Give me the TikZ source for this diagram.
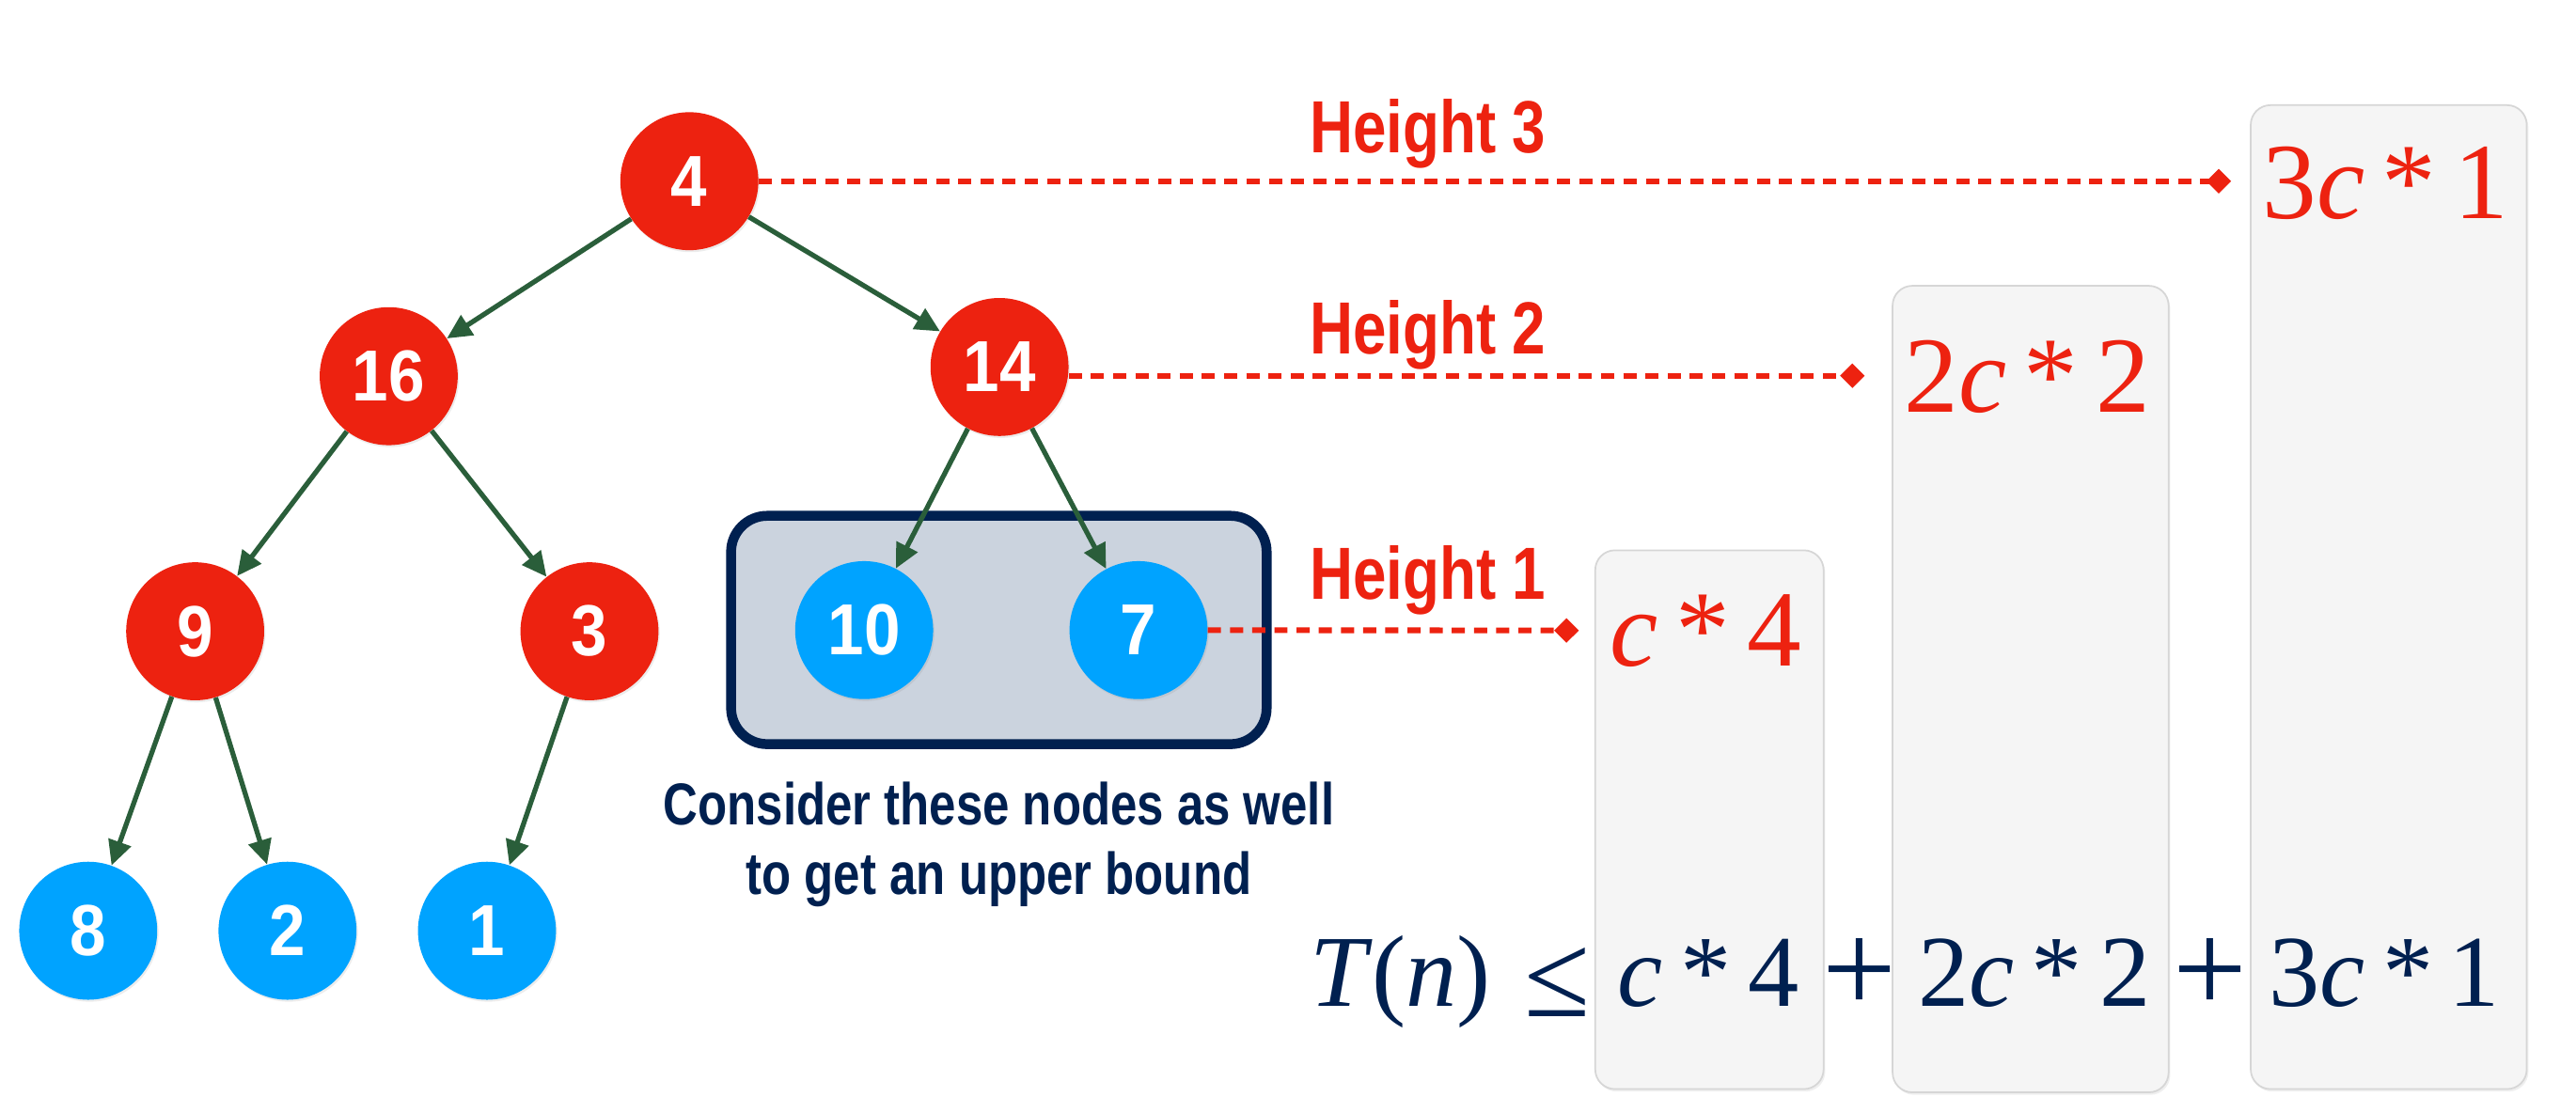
\documentclass[tikz,border=0pt]{standalone}
\usepackage{fontspec}
\usetikzlibrary{arrows.meta,shadows}
\newfontfamily\numfont[FakeStretch=0.9]{Liberation Sans}
\newfontfamily\condfont[FakeStretch=0.81]{Liberation Sans}
\newfontfamily\serifont{Liberation Serif}
\definecolor{hred}{RGB}{237,34,16}
\definecolor{hblue}{RGB}{0,163,255}
\definecolor{hgreen}{RGB}{42,94,58}
\definecolor{hnavy}{RGB}{0,32,80}
\definecolor{boxfill}{RGB}{203,211,222}
\definecolor{barfill}{RGB}{245,245,245}
\definecolor{barline}{RGB}{214,214,214}
\newcommand\bigplus{\raisebox{-4pt}{\fontsize{80}{80}\selectfont +}}
\newcommand\bigleq{\raisebox{-6pt}{\fontsize{73}{73}\selectfont ≤}}
\begin{document}
\begin{tikzpicture}[x=1pt,y=-1pt,
  heapnode/.style={circle, minimum size=84pt, inner sep=0pt, text=white,
    font=\numfont\bfseries\fontsize{44}{44}\selectfont,
    drop shadow={opacity=0.15, shadow xshift=0.8pt, shadow yshift=-1.2pt}},
  rednode/.style={heapnode, fill=hred},
  bluenode/.style={heapnode, fill=hblue},
  treeedge/.style={draw=hgreen, line width=3pt, -{Triangle[length=15pt,width=14pt]}},
  levelline/.style={draw=hred, line width=3.5pt, dash pattern=on 8pt off 5.5pt, -{Diamond[length=15pt,width=15pt]}},
  heightlbl/.style={anchor=base west, inner sep=0pt, text=hred, font=\condfont\bfseries\fontsize{45}{45}\selectfont},
  costbar/.style={fill=barfill, draw=barline, line width=1pt, rounded corners=12pt, inner sep=0pt,
    drop shadow={opacity=0.12, shadow xshift=1pt, shadow yshift=-1.5pt}},
  costlbl/.style={anchor=base west, inner sep=0pt, text=hred, font=\serifont\fontsize{66}{66}\selectfont},
]
\useasboundingbox[fill=white] (0,0) rectangle (1568,667.8);

% bars
\node[costbar, minimum width=139pt, minimum height=328pt] (bar1) at (1040.5,499) {};
\node[costbar, minimum width=168pt, minimum height=491pt] (bar2) at (1236,419.5) {};
\node[costbar, minimum width=168pt, minimum height=599pt] (bar3) at (1454,363.5) {};

% group box
\node[draw=hnavy, line width=6pt, fill=boxfill, rounded corners=22pt, inner sep=0pt,
      minimum width=326pt, minimum height=139pt] (grp) at (608,383.5) {};

% tree nodes
\node[rednode] (n4) at (419.6,110.3) {4};
\node[rednode] (n16) at (236.6,229) {16};
\node[rednode] (n14) at (608.4,223.4) {14};
\node[rednode] (n9) at (118.8,384.3) {9};
\node[rednode] (n3) at (358.8,384.3) {3};
\node[bluenode] (n10) at (526,383.6) {10};
\node[bluenode] (n7) at (693,383.6) {7};
\node[bluenode] (n8) at (53.7,566.6) {8};
\node[bluenode] (n2) at (175,566.6) {2};
\node[bluenode] (n1) at (296.4,566.6) {1};

% edges
\draw[treeedge] (n4) -- (n16);
\draw[treeedge] (n4) -- (n14);
\draw[treeedge] (n16) -- (n9);
\draw[treeedge] (n16) -- (n3);
\draw[treeedge] (n14) -- (n10);
\draw[treeedge] (n14) -- (n7);
\draw[treeedge] (n9) -- (n8);
\draw[treeedge] (n9) -- (n2);
\draw[treeedge] (n3) -- (n1);

% level lines
\coordinate (e3) at (1358,110.3);
\coordinate (e2) at (1135,228.7);
\coordinate (e1) at (961,383.8);
\draw[levelline] (n4.east) -- (e3);
\draw[levelline] (n14.east |- e2) -- (e2);
\draw[levelline] (n7.east) -- (e1);

% height labels
\node[heightlbl] (h3) at (797,93) {Height 3};
\node[heightlbl] (h2) at (797,215.2) {Height 2};
\node[heightlbl] (h1) at (797,365) {Height 1};

% note
\node[font=\condfont\bfseries\fontsize{36}{42.6}\selectfont, text=hnavy, align=center, inner sep=0pt]
  (note) at (608,514) {Consider these nodes as well\\to get an upper bound};

% cost labels
\node[costlbl] (c3) at (1377,133) {3\textit{c}\hspace{0.16em}*\hspace{0.16em}1};
\node[costlbl] (c2) at (1159,251) {2\textit{c}\hspace{0.16em}*\hspace{0.16em}2};
\node[costlbl] (c1) at (980,405.6) {\textit{c}\hspace{0.16em}*\hspace{0.16em}4};

% total
\node[anchor=base west, inner sep=0pt, text=hnavy, font=\serifont\fontsize{62}{62}\selectfont] (total) at (797,612.7)
  {\textit{T}(\textit{n})\hspace{20pt}\bigleq\hspace{17pt}\textit{c}\hspace{0.17em}*\hspace{0.17em}4\hspace{13.8pt}\bigplus\hspace{13.2pt}2\textit{c}\hspace{0.17em}*\hspace{0.17em}2\hspace{13.8pt}\bigplus\hspace{13.2pt}3\textit{c}\hspace{0.17em}*\hspace{0.15em}1};
\end{tikzpicture}
\end{document}
